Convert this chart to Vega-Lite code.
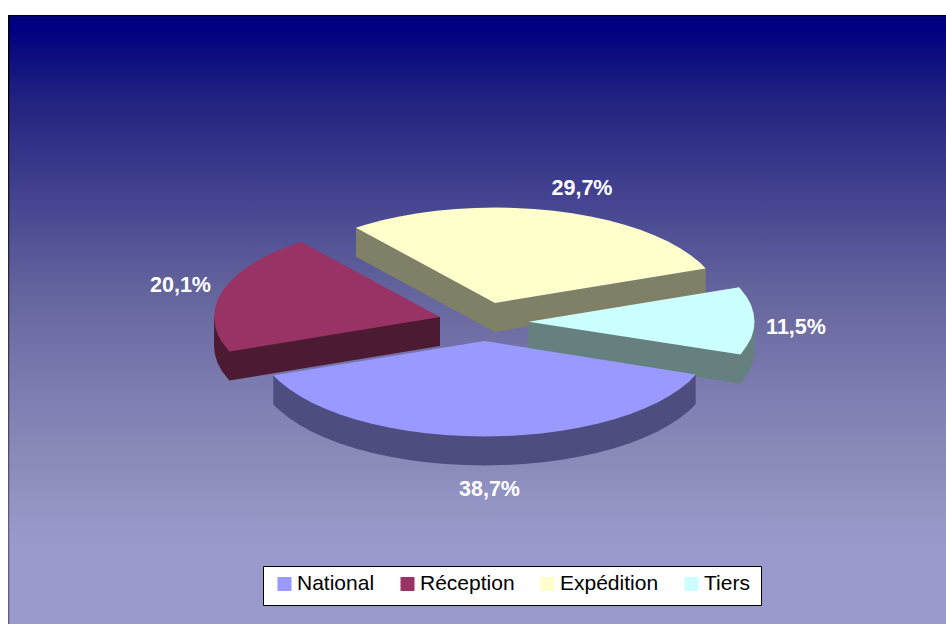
{"$schema":"https://vega.github.io/schema/vega-lite/v6.json","width":946,"height":624,"padding":0,"autosize":{"type":"fit","contains":"padding"},"background":"white","view":{"stroke":null},
"datasets":{"panel":[{"x":8,"x2":946,"y":15,"y2":624,"inner":9.3,"innerY":16.3}],
"labels":[{"label":"29,7%","share":29.7,"x":582,"y":188.5},{"label":"20,1%","share":20.1,"x":180.5,"y":285.5},{"label":"11,5%","share":11.5,"x":796,"y":327.5},{"label":"38,7%","share":38.7,"x":489.5,"y":489.5}],
"outlines":[
{"piece":"Expédition flanc","n":1,"x":355.9,"y":227.7},{"piece":"Expédition flanc","n":2,"x":355.9,"y":256.7},{"piece":"Expédition flanc","n":3,"x":495,"y":332},{"piece":"Expédition flanc","n":4,"x":705.7,"y":297.5},{"piece":"Expédition flanc","n":5,"x":705.7,"y":268.5},{"piece":"Expédition flanc","n":6,"x":495,"y":303},
{"piece":"Expédition","n":1,"x":495,"y":303},{"piece":"Expédition","n":2,"x":355.9,"y":227.7},{"piece":"Expédition","n":3,"x":365.4,"y":224.8},{"piece":"Expédition","n":4,"x":382,"y":220.3},{"piece":"Expédition","n":5,"x":399.5,"y":216.4},{"piece":"Expédition","n":6,"x":417.7,"y":213.3},{"piece":"Expédition","n":7,"x":436.5,"y":210.8},{"piece":"Expédition","n":8,"x":455.8,"y":209},{"piece":"Expédition","n":9,"x":475.3,"y":207.9},{"piece":"Expédition","n":10,"x":495,"y":207.6},{"piece":"Expédition","n":11,"x":514.7,"y":207.9},{"piece":"Expédition","n":12,"x":534.2,"y":209},{"piece":"Expédition","n":13,"x":553.5,"y":210.8},{"piece":"Expédition","n":14,"x":572.3,"y":213.3},{"piece":"Expédition","n":15,"x":590.5,"y":216.4},{"piece":"Expédition","n":16,"x":608,"y":220.3},{"piece":"Expédition","n":17,"x":624.6,"y":224.8},{"piece":"Expédition","n":18,"x":640.3,"y":229.8},{"piece":"Expédition","n":19,"x":654.8,"y":235.5},{"piece":"Expédition","n":20,"x":668.1,"y":241.6},{"piece":"Expédition","n":21,"x":680.1,"y":248.2},{"piece":"Expédition","n":22,"x":690.7,"y":255.25},{"piece":"Expédition","n":23,"x":699.8,"y":262.6},{"piece":"Expédition","n":24,"x":705.7,"y":268.5},
{"piece":"Réception flanc","n":1,"x":440,"y":317},{"piece":"Réception flanc","n":2,"x":440,"y":346},{"piece":"Réception flanc","n":3,"x":229.3,"y":380.5},{"piece":"Réception flanc","n":4,"x":221.7,"y":370.7},{"piece":"Réception flanc","n":5,"x":217.4,"y":362.6},{"piece":"Réception flanc","n":6,"x":214.9,"y":354.3},{"piece":"Réception flanc","n":7,"x":214,"y":346},{"piece":"Réception flanc","n":8,"x":214,"y":317},
{"piece":"Réception","n":1,"x":440,"y":317},{"piece":"Réception","n":2,"x":300.9,"y":241.7},{"piece":"Réception","n":3,"x":280.2,"y":249.5},{"piece":"Réception","n":4,"x":266.9,"y":255.6},{"piece":"Réception","n":5,"x":254.9,"y":262.2},{"piece":"Réception","n":6,"x":244.3,"y":269.25},{"piece":"Réception","n":7,"x":235.2,"y":276.6},{"piece":"Réception","n":8,"x":227.6,"y":284.3},{"piece":"Réception","n":9,"x":221.7,"y":292.3},{"piece":"Réception","n":10,"x":217.4,"y":300.4},{"piece":"Réception","n":11,"x":214.9,"y":308.7},{"piece":"Réception","n":12,"x":214,"y":317},{"piece":"Réception","n":13,"x":214.9,"y":325.3},{"piece":"Réception","n":14,"x":217.4,"y":333.6},{"piece":"Réception","n":15,"x":221.7,"y":341.7},{"piece":"Réception","n":16,"x":229.3,"y":351.5},
{"piece":"Tiers flanc","n":1,"x":528.5,"y":321.7},{"piece":"Tiers flanc","n":2,"x":528.5,"y":350.7},{"piece":"Tiers flanc","n":3,"x":740.5,"y":383.5},{"piece":"Tiers flanc","n":4,"x":747,"y":374.5},{"piece":"Tiers flanc","n":5,"x":751.3,"y":366.8},{"piece":"Tiers flanc","n":6,"x":753.6,"y":359},{"piece":"Tiers flanc","n":7,"x":754.5,"y":350.7},{"piece":"Tiers flanc","n":8,"x":754.5,"y":321.7},
{"piece":"Tiers","n":1,"x":528.5,"y":321.7},{"piece":"Tiers","n":2,"x":739.2,"y":287.2},{"piece":"Tiers","n":3,"x":746.8,"y":297},{"piece":"Tiers","n":4,"x":751.1,"y":305.1},{"piece":"Tiers","n":5,"x":753.6,"y":313.4},{"piece":"Tiers","n":6,"x":754.5,"y":321.7},{"piece":"Tiers","n":7,"x":753.6,"y":330},{"piece":"Tiers","n":8,"x":751.3,"y":337.8},{"piece":"Tiers","n":9,"x":747,"y":345.5},{"piece":"Tiers","n":10,"x":740.5,"y":354.5},
{"piece":"National flanc","n":1,"x":695.7,"y":375},{"piece":"National flanc","n":2,"x":695.7,"y":404},{"piece":"National flanc","n":3,"x":689.3,"y":410.4},{"piece":"National flanc","n":4,"x":680.2,"y":417.8},{"piece":"National flanc","n":5,"x":669.6,"y":424.8},{"piece":"National flanc","n":6,"x":657.6,"y":431.4},{"piece":"National flanc","n":7,"x":644.3,"y":437.5},{"piece":"National flanc","n":8,"x":629.8,"y":443.2},{"piece":"National flanc","n":9,"x":614.1,"y":448.2},{"piece":"National flanc","n":10,"x":597.5,"y":452.7},{"piece":"National flanc","n":11,"x":580,"y":456.6},{"piece":"National flanc","n":12,"x":561.8,"y":459.7},{"piece":"National flanc","n":13,"x":543,"y":462.2},{"piece":"National flanc","n":14,"x":523.7,"y":464},{"piece":"National flanc","n":15,"x":504.2,"y":465.1},{"piece":"National flanc","n":16,"x":484.5,"y":465.5},{"piece":"National flanc","n":17,"x":464.8,"y":465.1},{"piece":"National flanc","n":18,"x":445.3,"y":464},{"piece":"National flanc","n":19,"x":426,"y":462.2},{"piece":"National flanc","n":20,"x":407.2,"y":459.7},{"piece":"National flanc","n":21,"x":389,"y":456.6},{"piece":"National flanc","n":22,"x":371.5,"y":452.7},{"piece":"National flanc","n":23,"x":354.9,"y":448.2},{"piece":"National flanc","n":24,"x":339.2,"y":443.2},{"piece":"National flanc","n":25,"x":324.7,"y":437.5},{"piece":"National flanc","n":26,"x":311.4,"y":431.4},{"piece":"National flanc","n":27,"x":299.4,"y":424.8},{"piece":"National flanc","n":28,"x":288.8,"y":417.8},{"piece":"National flanc","n":29,"x":279.7,"y":410.4},{"piece":"National flanc","n":30,"x":273.3,"y":404.5},{"piece":"National flanc","n":31,"x":273.3,"y":375.5},
{"piece":"National","n":1,"x":484.5,"y":341},{"piece":"National","n":2,"x":695.7,"y":374.5},{"piece":"National","n":3,"x":689.3,"y":381.4},{"piece":"National","n":4,"x":680.2,"y":388.8},{"piece":"National","n":5,"x":669.6,"y":395.8},{"piece":"National","n":6,"x":657.6,"y":402.4},{"piece":"National","n":7,"x":644.3,"y":408.5},{"piece":"National","n":8,"x":629.8,"y":414.2},{"piece":"National","n":9,"x":614.1,"y":419.2},{"piece":"National","n":10,"x":597.5,"y":423.7},{"piece":"National","n":11,"x":580,"y":427.6},{"piece":"National","n":12,"x":561.8,"y":430.7},{"piece":"National","n":13,"x":543,"y":433.2},{"piece":"National","n":14,"x":523.7,"y":435},{"piece":"National","n":15,"x":504.2,"y":436.1},{"piece":"National","n":16,"x":484.5,"y":436.5},{"piece":"National","n":17,"x":464.8,"y":436.1},{"piece":"National","n":18,"x":445.3,"y":435},{"piece":"National","n":19,"x":426,"y":433.2},{"piece":"National","n":20,"x":407.2,"y":430.7},{"piece":"National","n":21,"x":389,"y":427.6},{"piece":"National","n":22,"x":371.5,"y":423.7},{"piece":"National","n":23,"x":354.9,"y":419.2},{"piece":"National","n":24,"x":339.2,"y":414.2},{"piece":"National","n":25,"x":324.7,"y":408.5},{"piece":"National","n":26,"x":311.4,"y":402.4},{"piece":"National","n":27,"x":299.4,"y":395.8},{"piece":"National","n":28,"x":288.8,"y":388.8},{"piece":"National","n":29,"x":279.7,"y":381.4},{"piece":"National","n":30,"x":273.3,"y":375.5}
]},
"layer":[
{"data":{"name":"panel"},"mark":{"type":"rect","color":{"gradient":"linear","x1":0,"y1":0,"x2":0,"y2":1,"stops":[{"offset":0,"color":"#000000"},{"offset":0.1,"color":"#000000"},{"offset":0.85,"color":"#606080"},{"offset":1,"color":"#606080"}]}},"encoding":{"x":{"field":"x","type":"quantitative","scale":{"domain":[0,946],"nice":false,"zero":false},"axis":null},"x2":{"field":"x2"},"y":{"field":"y","type":"quantitative","scale":{"domain":[624,0],"nice":false,"zero":false},"axis":null},"y2":{"field":"y2"}}},
{"data":{"name":"panel"},"mark":{"type":"rect","color":{"gradient":"linear","x1":0,"y1":0,"x2":0,"y2":1,"stops":[{"offset":0,"color":"#000080"},{"offset":0.022,"color":"#000080"},{"offset":0.137,"color":"#222280"},{"offset":0.302,"color":"#444490"},{"offset":0.467,"color":"#67679F"},{"offset":0.631,"color":"#7F7FB3"},{"offset":0.746,"color":"#8C8CBC"},{"offset":0.796,"color":"#9393C4"},{"offset":0.87,"color":"#9999CC"},{"offset":1,"color":"#9999CC"}]}},"encoding":{"x":{"field":"inner","type":"quantitative"},"x2":{"field":"x2"},"y":{"field":"innerY","type":"quantitative"},"y2":{"field":"y2"}}},
{"data":{"name":"outlines"},"mark":{"type":"line","filled":true,"interpolate":"linear-closed"},"encoding":{"x":{"field":"x","type":"quantitative"},"y":{"field":"y","type":"quantitative"},"order":{"field":"n","type":"quantitative"},"color":{"field":"piece","type":"nominal","scale":{"domain":["National","Réception","Expédition","Tiers","National flanc","Réception flanc","Expédition flanc","Tiers flanc"],"range":["#9999FF","#993366","#FFFFCC","#CCFFFF","#4D4D80","#4D1A33","#808066","#668080"]},"legend":{"values":["National","Réception","Expédition","Tiers"],"title":null,"orient":"none","legendX":263,"legendY":566,"direction":"horizontal","columns":4,"symbolType":"square","symbolSize":196,"symbolStrokeWidth":0,"labelFont":"Liberation Sans","labelFontSize":21,"labelColor":"#000000","labelOffset":2,"columnPadding":22,"padding":11,"clipHeight":14,"fillColor":"#FFFFFF","strokeColor":"#000000"}}}},
{"data":{"name":"labels"},"mark":{"type":"text","font":"Liberation Sans","fontWeight":"bold","fontSize":21.5,"color":"#FFFFFF","align":"center","baseline":"middle"},"encoding":{"x":{"field":"x","type":"quantitative"},"y":{"field":"y","type":"quantitative"},"text":{"field":"label","type":"nominal"}}}
]}
